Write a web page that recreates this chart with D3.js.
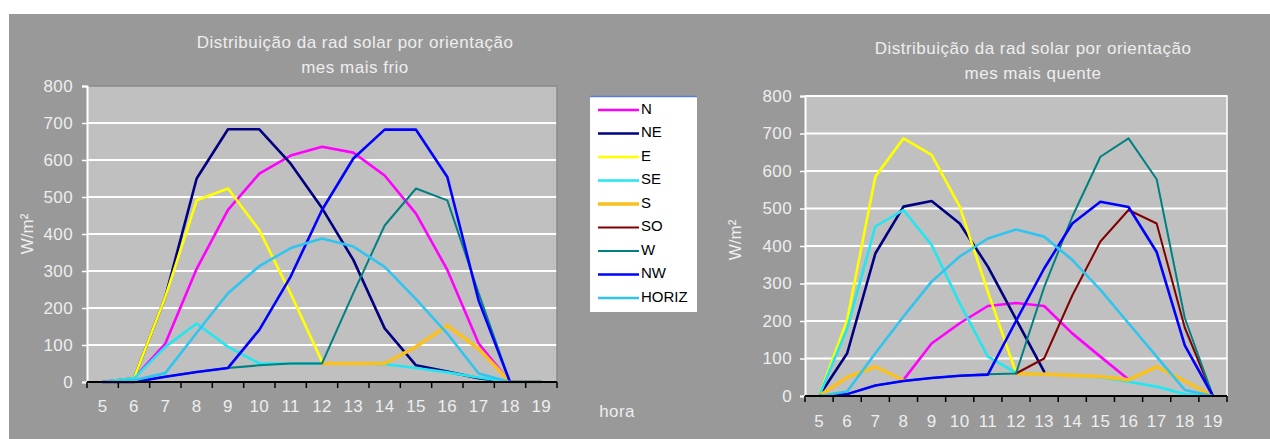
<!DOCTYPE html>
<html>
<head>
<meta charset="utf-8">
<script src="https://cdn.jsdelivr.net/npm/d3@7"></script>
<style>
html,body{margin:0;padding:0;background:#fff;}
svg{display:block;font-family:"Liberation Sans",Arial,sans-serif;}
</style>
</head>
<body>
<svg id="chart" width="1270" height="439"></svg>
<script>
// ---------- data ----------
const hours = [5,6,7,8,9,10,11,12,13,14,15,16,17,18,19];
const seriesNames = ["N","NE","E","SE","S","SO","W","NW","HORIZ"];
const seriesColors = ["#ff00ff","#000080","#ffff00","#22e6f0","#f8c020","#800000","#008080","#0000ff","#30c4f0"];
const yTicks = [0,100,200,300,400,500,600,700,800];

// coldest month (left chart)
const coldN     = [0,10,104,306,465,563,612,636,620,558,455,303,104,0,0];
const coldNE    = [0,10,230,550,683,683,590,470,330,145,45,28,10,0,0];
const coldE     = [0,10,230,491,523,410,239,55,null,null,null,null,null,null,null];
const coldSE    = [0,10,95,158,95,50,50,50,50,48,38,26,12,0,0];
const coldS     = [null,null,null,null,null,null,null,50,50,50,95,153,90,0,0];
const coldSO    = [null,null,null,null,null,null,null,null,null,null,null,null,null,null,null];
const coldW     = [0,0,14,27,38,45,50,50,240,423,523,491,240,0,0];
const coldNW    = [0,0,14,27,38,141,285,465,604,682,682,554,220,0,0];
const coldHORIZ = [0,5,24,133,240,313,362,388,366,311,224,131,23,0,0];

// hottest month (right chart)
const hotN     = [null,null,null,43,140,194,240,248,240,167,105,44,null,null,null];
const hotNE    = [0,114,380,505,520,460,345,205,65,null,null,null,null,null,null];
const hotE     = [0,203,585,687,643,505,278,62,null,null,null,null,null,null,null];
const hotSE    = [0,180,452,496,403,247,105,62,58,55,50,38,25,5,0];
const hotS     = [0,50,78,42,null,null,null,60,58,55,52,43,78,40,0];
const hotSO    = [null,null,null,null,null,null,null,60,100,268,412,496,460,182,0];
const hotW     = [0,5,28,40,48,54,58,60,290,478,638,687,578,208,0];
const hotNW    = [0,5,28,40,48,54,57,200,340,460,518,504,384,135,0];
const hotHORIZ = [0,12,114,212,305,372,420,444,425,363,283,194,105,16,0];

const coldSeries = [coldN,coldNE,coldE,coldSE,coldS,coldSO,coldW,coldNW,coldHORIZ];
const hotSeries  = [hotN,hotNE,hotE,hotSE,hotS,hotSO,hotW,hotNW,hotHORIZ];

const titleLine1 = "Distribuição da rad solar por orientação";
const coldTitle2 = "mes mais frio";
const hotTitle2  = "mes mais quente";
const yAxisLabel = "W/m²";
const xAxisLabel = "hora";

// ---------- styling ----------
const widths = [2.6,2.6,2.6,2.6,3.6,2,2,2.6,2.6];
const svg = d3.select("#chart");
const textColor = "#eeeeee";
const FS = 17;

svg.append("rect").attr("x",9).attr("y",14).attr("width",1261).attr("height",425).attr("fill","#999999");

function drawChart(cfg, data) {
  const x = d3.scaleBand().domain(hours).range([cfg.x0, cfg.x1]).padding(0);
  const y = d3.scaleLinear().domain([0,800]).range([cfg.y1, cfg.y0]);
  const bw = x.bandwidth();
  const g = svg.append("g");

  g.append("rect").attr("x",cfg.x0).attr("y",cfg.y0)
    .attr("width",cfg.x1-cfg.x0).attr("height",cfg.y1-cfg.y0).attr("fill","#c0c0c0");

  // gridlines
  g.selectAll(".grid").data(yTicks.filter(t => t>0 && (cfg.topGrid || t<800))).enter().append("line")
    .attr("x1",cfg.x0).attr("x2",cfg.x1)
    .attr("y1",d=>y(d)).attr("y2",d=>y(d))
    .attr("stroke","#ffffff").attr("stroke-width",2);

  // plot border top/right
  g.append("path")
    .attr("d",`M${cfg.x0},${cfg.y0}H${cfg.x1}V${cfg.y1}`)
    .attr("fill","none").attr("stroke",cfg.borderColor).attr("stroke-width",1.5);

  // y axis
  const ya = g.append("g").attr("transform",`translate(${cfg.x0},0)`)
    .call(d3.axisLeft(y).tickValues(yTicks).tickSize(5).tickPadding(cfg.yPad));
  ya.select(".domain").attr("stroke","#ffffff").attr("stroke-width",2);
  ya.selectAll(".tick line").attr("stroke","#ffffff").attr("stroke-width",1.5);
  ya.selectAll(".tick text").attr("fill",textColor).attr("font-size",FS).attr("letter-spacing","0.4px")
    .attr("font-family","Liberation Sans, Arial, sans-serif");

  // lines
  const line = d3.line().defined(d => d != null)
    .x((d,i) => x(hours[i]) + bw/2).y(d => y(d));
  data.forEach((vals, k) => {
    g.append("path").datum(vals).attr("d",line)
      .attr("fill","none").attr("stroke",seriesColors[k])
      .attr("stroke-width",widths[k]).attr("stroke-linejoin","round").attr("stroke-linecap","round");
  });

  // x axis
  g.append("line").attr("x1",cfg.x0).attr("x2",cfg.x1).attr("y1",cfg.y1).attr("y2",cfg.y1)
    .attr("stroke","#000").attr("stroke-width",2);
  const bounds = hours.map(h => x(h)).concat([cfg.x1]);
  g.selectAll(".xt").data(bounds).enter().append("line")
    .attr("x1",d=>d).attr("x2",d=>d).attr("y1",cfg.y1).attr("y2",cfg.y1+6)
    .attr("stroke","#000").attr("stroke-width",1.5);
  g.selectAll(".xl").data(hours).enter().append("text")
    .attr("x",d => x(d)+bw/2).attr("y",cfg.xLabelY)
    .attr("text-anchor","middle").attr("dominant-baseline","middle")
    .attr("fill",textColor).attr("font-size",FS).attr("letter-spacing","0.4px").text(d=>d);

  // titles
  g.append("text").attr("x",cfg.tx).attr("y",cfg.ty1).attr("text-anchor","middle")
    .attr("fill",textColor).attr("font-size",FS).attr("letter-spacing","0.5px").text(titleLine1);
  g.append("text").attr("x",cfg.tx).attr("y",cfg.ty2).attr("text-anchor","middle")
    .attr("fill",textColor).attr("font-size",FS).attr("letter-spacing","0.5px").text(cfg.title2);

  // y label
  g.append("text").attr("transform",`translate(${cfg.ylx},${cfg.yly}) rotate(-90)`)
    .attr("text-anchor","middle").attr("dominant-baseline","middle")
    .attr("fill",textColor).attr("font-size",FS).text(yAxisLabel);
}

drawChart({x0:87,x1:557,y0:86,y1:382,topGrid:false,borderColor:"#8a8a8a",yPad:9,
  xLabelY:408,tx:355,ty1:48,ty2:73,title2:coldTitle2,ylx:29,yly:234}, coldSeries);
drawChart({x0:805,x1:1227,y0:96,y1:396,topGrid:true,borderColor:"#ffffff",yPad:8,
  xLabelY:423,tx:1033,ty1:54,ty2:79,title2:hotTitle2,ylx:737,yly:240}, hotSeries);

// legend
const lg = svg.append("g");
lg.append("rect").attr("x",590).attr("y",96).attr("width",107).attr("height",216).attr("fill","#ffffff");
lg.append("line").attr("x1",590).attr("x2",697).attr("y1",96.5).attr("y2",96.5).attr("stroke","#5b7fd0").attr("stroke-width",1.5);
const ly = d3.scaleLinear().domain([0,8]).range([110,298]);
seriesNames.forEach((nm,k) => {
  lg.append("line").attr("x1",598).attr("x2",639).attr("y1",ly(k)).attr("y2",ly(k))
    .attr("stroke",seriesColors[k]).attr("stroke-width",widths[k]);
  lg.append("text").attr("x",641).attr("y",ly(k)).attr("dominant-baseline","middle")
    .attr("fill","#000").attr("font-size",15).text(nm);
});

svg.append("text").attr("x",617).attr("y",413).attr("text-anchor","middle").attr("dominant-baseline","middle")
  .attr("fill",textColor).attr("font-size",FS).attr("letter-spacing","0.4px").text(xAxisLabel);
</script>
</body>
</html>
